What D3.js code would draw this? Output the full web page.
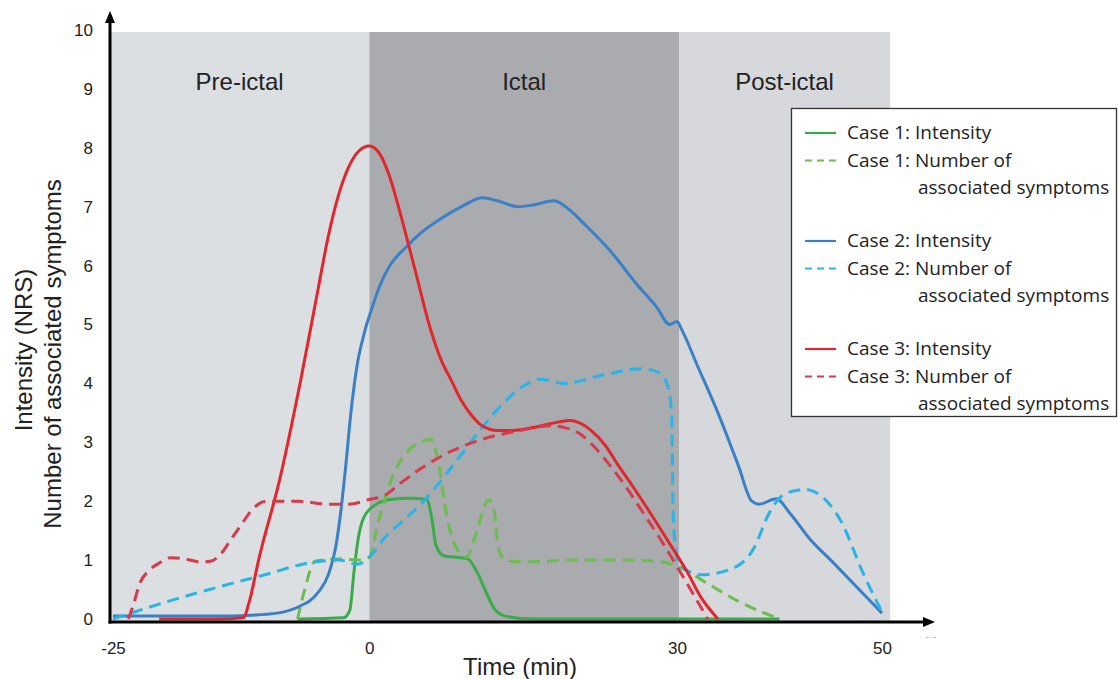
<!DOCTYPE html>
<html>
<head>
<meta charset="utf-8">
<script src="https://cdn.jsdelivr.net/npm/d3@7"></script>
<style>
  body { margin: 0; background: #fff; }
  svg { display: block; font-family: "Liberation Sans", Arial, sans-serif; }
  .legend text { font-family: "Open Sans", sans-serif; }
</style>
</head>
<body>
<div id="chart"></div>
<script>
'use strict'
// values: [time (min), value]
const case1Intensity = [[-7,0],[-2.5,0.02],[-1.9,0.15],[-1.5,0.8],[-1.1,1.35],[-0.6,1.7],[0.5,1.93],[2,2.03],[4,2.05],[5.6,2.03],[6.1,1.7],[6.5,1.25],[7.3,1.07],[8.5,1.05],[9.6,1.02],[10.5,0.8],[11.4,0.45],[12.3,0.15],[13.5,0.04],[16,0],[40,0]];
const case1Symptoms = [[-7,0],[-6.3,0.5],[-5.3,0.98],[-3,1.02],[-1,1.0],[0,1.05],[0.8,1.6],[2,2.3],[3.5,2.8],[5,3.0],[6,3.05],[6.8,2.6],[7.5,1.8],[8.5,1.2],[9.5,1.05],[10.5,1.5],[11.6,2.02],[12.1,1.9],[12.6,1.2],[13.3,1.0],[15,0.97],[20,1.0],[25,1.0],[28,0.98],[30,0.9],[33,0.6],[36,0.3],[40,0]];
const case2Intensity = [[-25,0.05],[-20,0.05],[-15,0.05],[-12,0.06],[-9,0.1],[-7,0.2],[-5,0.45],[-4,0.75],[-3.3,1.2],[-2.8,1.8],[-2.3,2.6],[-1.8,3.5],[-1.2,4.3],[-0.5,4.85],[0.3,5.3],[1,5.65],[2,6.0],[3.5,6.3],[5,6.55],[7,6.8],[9,7.0],[11,7.15],[12.5,7.1],[14.5,7.0],[16,7.03],[18,7.1],[19.5,6.95],[21,6.7],[23.5,6.25],[26,5.7],[28,5.3],[29.3,5.0],[30,5.05],[30.5,4.9],[32,4.3],[34,3.5],[36,2.6],[37.3,2.0],[38,1.95],[39.7,2.04],[41,1.8],[43,1.35],[45,1.0],[47.5,0.55],[50,0.1]];
const case2Symptoms = [[-25,0],[-20,0.28],[-15,0.53],[-10,0.76],[-6,0.95],[-3,1.0],[-1.2,0.93],[0,1.05],[1.5,1.38],[3.5,1.7],[5.3,2.0],[7,2.35],[9,2.8],[11,3.25],[13,3.65],[15,3.95],[16.7,4.07],[19,4.0],[22.5,4.13],[26.5,4.25],[28.3,4.18],[29.2,3.9],[29.5,3.4],[29.6,2.0],[29.8,1.3],[30.2,0.93],[32.3,0.75],[35.3,0.85],[37.5,1.2],[39,1.8],[40.5,2.12],[42.5,2.2],[44,2.1],[46,1.66],[48.2,0.76],[50.2,0.05]];
const case3Intensity = [[-20.5,0],[-15,0],[-12.3,0.02],[-11.7,0.3],[-10.8,1.0],[-8.7,2.4],[-6.7,4.05],[-5,5.6],[-4,6.5],[-3,7.2],[-2,7.68],[-1,7.95],[0,8.03],[1,7.9],[2,7.5],[3,6.9],[4.5,5.9],[6,4.9],[7,4.4],[8,4.05],[9,3.7],[10,3.45],[11,3.28],[12.5,3.2],[14,3.2],[16,3.25],[18,3.33],[19.5,3.37],[20.5,3.33],[21.5,3.22],[23,2.95],[24.2,2.63],[25.7,2.25],[27.4,1.8],[29.4,1.25],[31,0.8],[32.3,0.38],[34,0]];
const case3Symptoms = [[-23.5,0],[-23,0.25],[-22.4,0.6],[-21.5,0.82],[-20.5,0.95],[-19.4,1.04],[-18,1.02],[-16.5,0.97],[-15.5,0.98],[-14.5,1.1],[-13.5,1.35],[-12.5,1.6],[-11.3,1.88],[-10,2.0],[-7,2.0],[-4,1.95],[-2,1.95],[0,2.03],[1.5,2.1],[3,2.3],[5,2.55],[8,2.85],[11,3.05],[14.4,3.19],[17.7,3.28],[19,3.25],[20.3,3.17],[21.8,2.95],[23.5,2.6],[25,2.25],[26.8,1.78],[28.3,1.38],[29.7,0.98],[31,0.6],[32,0.3],[33,0]];

const xTicks = [-25, 0, 30, 50];
const yTicks = [0,1,2,3,4,5,6,7,8,9,10];
const phases = [
  {name: 'Pre-ictal', from: -25.3, to: 0, fill: '#dcdfe2'},
  {name: 'Ictal', from: 0, to: 30.2, fill: '#a9abae'},
  {name: 'Post-ictal', from: 30.2, to: 50.8, fill: '#d6d8db'}
];
const series = [
  {label: 'Case 1: Intensity', data: case1Intensity, color: '#3aab4a', dashed: false},
  {label: 'Case 1: Number of', label2: 'associated symptoms', data: case1Symptoms, color: '#6cbd4e', dashed: true},
  {label: 'Case 2: Intensity', data: case2Intensity, color: '#3b80c6', dashed: false},
  {label: 'Case 2: Number of', label2: 'associated symptoms', data: case2Symptoms, color: '#28b4e8', dashed: true},
  {label: 'Case 3: Intensity', data: case3Intensity, color: '#e1262d', dashed: false},
  {label: 'Case 3: Number of', label2: 'associated symptoms', data: case3Symptoms, color: '#d8394c', dashed: true}
];

const W = 1118, H = 679;
const svg = d3.select('#chart').append('svg').attr('width', W).attr('height', H);

let x = d3.scaleLinear().domain([-25, 50]).range([113, 882]);
let y = d3.scaleLinear().domain([0, 10]).range([619, 30]);
const axisY = 622, axisX = 110;

// phase bands
svg.selectAll('rect.phase')
  .data(phases)
  .enter().append('rect')
  .attr('class', 'phase')
  .attr('x', d => x(d.from))
  .attr('y', y(10) + 2)
  .attr('width', d => x(d.to) - x(d.from))
  .attr('height', axisY - y(10) - 2)
  .attr('fill', d => d.fill);

svg.selectAll('text.phase')
  .data(phases)
  .enter().append('text')
  .attr('class', 'phase')
  .attr('x', d => (x(d.from) + x(d.to)) / 2)
  .attr('y', 90)
  .attr('text-anchor', 'middle')
  .attr('font-size', 24)
  .attr('fill', '#222')
  .text(d => d.name);

// curves
let line = d3.line()
  .x(d => x(d[0]))
  .y(d => y(d[1]))
  .curve(d3.curveMonotoneX);

svg.selectAll('path.series')
  .data(series)
  .enter().append('path')
  .attr('class', 'series')
  .attr('d', d => line(d.data))
  .attr('fill', 'none')
  .attr('stroke', d => d.color)
  .attr('stroke-width', 3)
  .attr('stroke-dasharray', d => d.dashed ? '12,7' : null)
  .attr('stroke-linejoin', 'round');

// axes with arrows
svg.append('line')
  .attr('x1', axisX).attr('y1', axisY + 1.5)
  .attr('x2', axisX).attr('y2', 20)
  .attr('stroke', '#000').attr('stroke-width', 3);
svg.append('path')
  .attr('d', `M${axisX},11 L${axisX - 5},23 L${axisX + 5},23 Z`)
  .attr('fill', '#000');
svg.append('line')
  .attr('x1', axisX - 1.5).attr('y1', axisY)
  .attr('x2', 926).attr('y2', axisY)
  .attr('stroke', '#000').attr('stroke-width', 3);
svg.append('path')
  .attr('d', `M935,${axisY} L923,${axisY - 5} L923,${axisY + 5} Z`)
  .attr('fill', '#000');

let yAxis = d3.axisLeft(y).tickValues(yTicks).tickSize(0).tickPadding(17);
let yAxisGroup = svg.append('g')
  .attr('transform', 'translate(' + axisX + ',0)')
  .call(yAxis);
yAxisGroup.select('.domain').remove();
yAxisGroup.selectAll('text').attr('font-size', 17).attr('fill', '#222')
  .style('font-family', '"Liberation Sans", Arial, sans-serif');

let xAxis = d3.axisBottom(x).tickValues(xTicks).tickSize(0).tickPadding(20)
  .tickFormat(d => String(d));
let xAxisGroup = svg.append('g')
  .attr('transform', 'translate(0,' + axisY + ')')
  .call(xAxis);
xAxisGroup.select('.domain').remove();
xAxisGroup.selectAll('text').attr('font-size', 17).attr('fill', '#222')
  .style('font-family', '"Liberation Sans", Arial, sans-serif');

svg.append('text')
  .attr('x', 931).attr('y', 640)
  .attr('text-anchor', 'middle')
  .attr('font-size', 11).attr('fill', '#bbb')
  .text('- -');

// axis titles
svg.append('text')
  .attr('x', 520).attr('y', 675)
  .attr('text-anchor', 'middle')
  .attr('font-size', 24).attr('fill', '#222')
  .text('Time (min)');
svg.append('text')
  .attr('transform', 'translate(32,350) rotate(-90)')
  .attr('text-anchor', 'middle')
  .attr('font-size', 24).attr('fill', '#222')
  .text('Intensity (NRS)');
svg.append('text')
  .attr('transform', 'translate(61,354) rotate(-90)')
  .attr('text-anchor', 'middle')
  .attr('font-size', 24).attr('fill', '#222')
  .text('Number of associated symptoms');

// legend
let legend = svg.append('g').attr('class', 'legend');
legend.append('rect')
  .attr('x', 791.5).attr('y', 108.5)
  .attr('width', 325).attr('height', 308)
  .attr('fill', '#fff').attr('stroke', '#333').attr('stroke-width', 1.3);

let rows = legend.selectAll('g.row')
  .data(series)
  .enter().append('g')
  .attr('class', 'row')
  .attr('transform', (d, i) => 'translate(0,' + (139 + Math.floor(i / 2) * 108 + (i % 2) * 27.5) + ')');
rows.append('line')
  .attr('x1', 805).attr('x2', d => d.dashed ? 839 : 836)
  .attr('y1', -6).attr('y2', -6)
  .attr('stroke', d => d.color).attr('stroke-width', 2.2)
  .attr('stroke-dasharray', d => d.dashed ? '7,5' : null);
rows.append('text')
  .attr('x', 847).attr('y', 0)
  .attr('font-size', 19).attr('fill', '#222')
  .text(d => d.label);
rows.filter(d => d.label2).append('text')
  .attr('x', 918).attr('y', 27.5)
  .attr('font-size', 19).attr('fill', '#222')
  .text(d => d.label2);
</script>
</body>
</html>
